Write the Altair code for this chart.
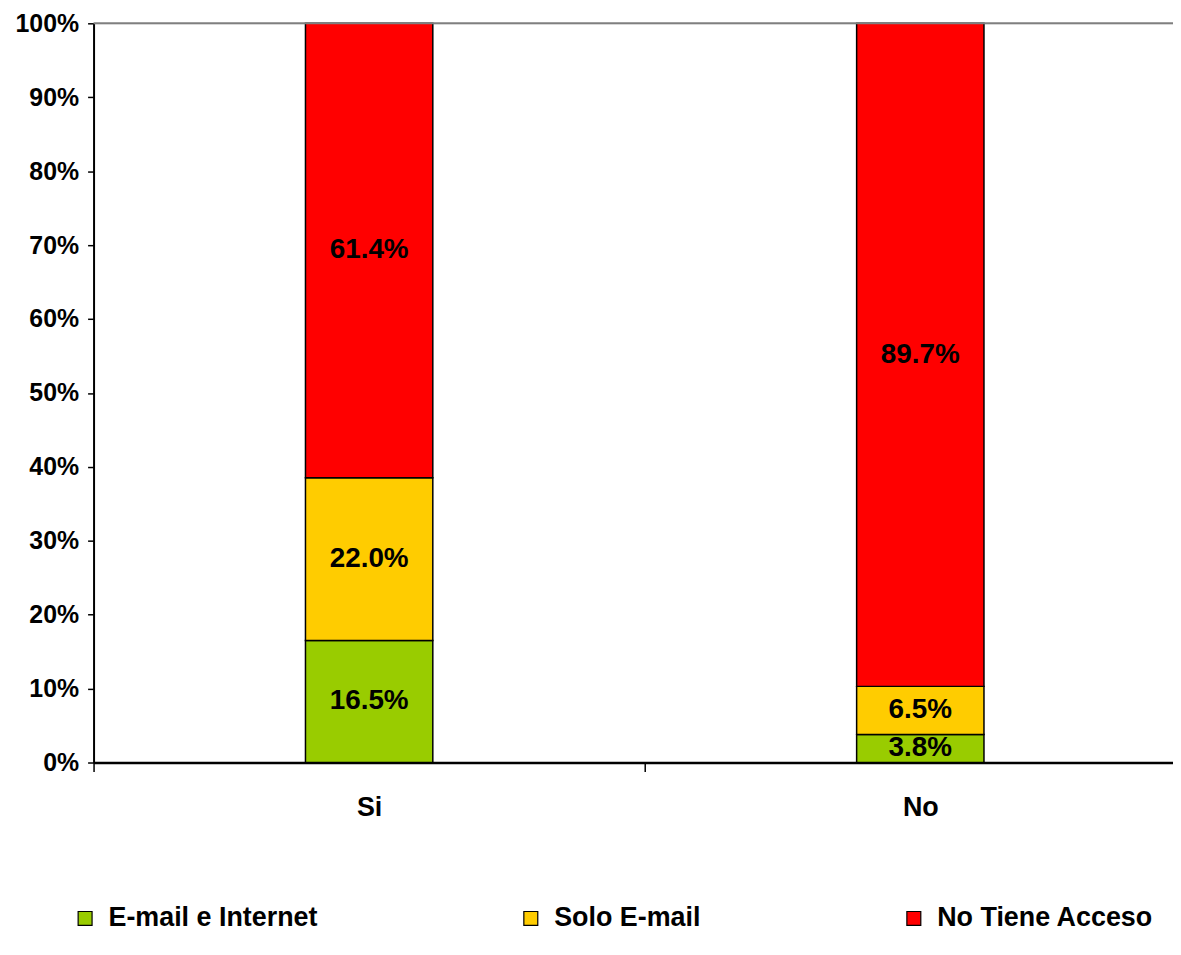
import altair as alt
import pandas as pd

categories = ["Si", "No"]
series = ["E-mail e Internet", "Solo E-mail", "No Tiene Acceso"]
si_values = [16.5, 22.0, 61.4]
no_values = [3.8, 6.5, 89.7]
colors = ["#99CC00", "#FFCC00", "#FF0000"]
y_ticks = [0.0, 0.1, 0.2, 0.3, 0.4, 0.5, 0.6, 0.7, 0.8, 0.9, 1.0]

rows = []
for cat, vals in zip(categories, [si_values, no_values]):
    for i, (s, v) in enumerate(zip(series, vals)):
        rows.append({"cat": cat, "serie": s, "value": v, "order": i})
df = pd.DataFrame(rows)

FONT = "Liberation Sans"
W, H = 1085, 743

yscale = alt.Scale(domain=[0, 1], nice=False)
xscale = alt.Scale(range=[0, 1108], paddingInner=0, paddingOuter=0)

base = alt.Chart(df).transform_stack(
    stack="value",
    groupby=["cat"],
    as_=["y0", "y1"],
    offset="normalize",
    sort=[alt.SortField("order", order="ascending")],
).transform_calculate(
    mid="(datum.y0 + datum.y1) / 2",
    label="format(datum.value, '.1f') + '%'",
)

x_enc = alt.X(
    "cat:N",
    sort=categories,
    scale=xscale,
    axis=alt.Axis(
        title=None,
        labelAngle=0,
        tickBand="extent",
        tickSize=9,
        tickColor="black",
        tickWidth=1.5,
        domainColor="black",
        domainWidth=2.5,
        labelFont=FONT,
        labelFontSize=27,
        labelFontWeight="bold",
        labelColor="black",
        labelPadding=23,
    ),
)

bars = base.mark_bar(size=128, stroke="black", strokeWidth=1.5).encode(
    x=x_enc,
    y=alt.Y(
        "y0:Q",
        scale=yscale,
        axis=alt.Axis(
            title=None,
            values=y_ticks,
            format=".0%",
            grid=False,
            tickSize=6,
            tickColor="black",
            tickWidth=1.5,
            domainColor="black",
            domainWidth=2,
            labelFont=FONT,
            labelFontSize=25,
            labelFontWeight="bold",
            labelColor="black",
            labelPadding=9,
        ),
    ),
    y2="y1:Q",
    color=alt.Color(
        "serie:N",
        sort=series,
        scale=alt.Scale(domain=series, range=colors),
        legend=alt.Legend(
            title=None,
            orient="none",
            direction="horizontal",
            legendX=-22,
            legendY=886,
            symbolType="square",
            symbolSize=196,
            symbolStrokeColor="black",
            symbolStrokeWidth=1.2,
            symbolOpacity=1,
            labelFont=FONT,
            labelFontSize=27,
            labelFontWeight="bold",
            labelColor="black",
            labelOffset=10,
            columnPadding=200,
            labelLimit=400,
        ),
    ),
    order=alt.Order("order:Q"),
)

labels = base.mark_text(
    font=FONT, fontSize=28, fontWeight="bold", color="black", baseline="middle"
).encode(
    x=alt.X("cat:N", sort=categories, scale=xscale),
    y=alt.Y("mid:Q", scale=yscale),
    text="label:N",
)

top_line = alt.Chart(pd.DataFrame({"top": [1.0]})).mark_rule(
    color="#7f7f7f", strokeWidth=2
).encode(y=alt.Y("top:Q", scale=yscale))

chart = alt.layer(bars, labels, top_line).properties(
    width=W,
    height=H,
    autosize=alt.AutoSizeParams(type="none"),
    padding={"left": 86, "top": 13, "right": 0, "bottom": 176},
).configure_view(stroke=None).configure(background="white")

chart.save("out.html", embed_options={"renderer": "svg", "actions": False})
